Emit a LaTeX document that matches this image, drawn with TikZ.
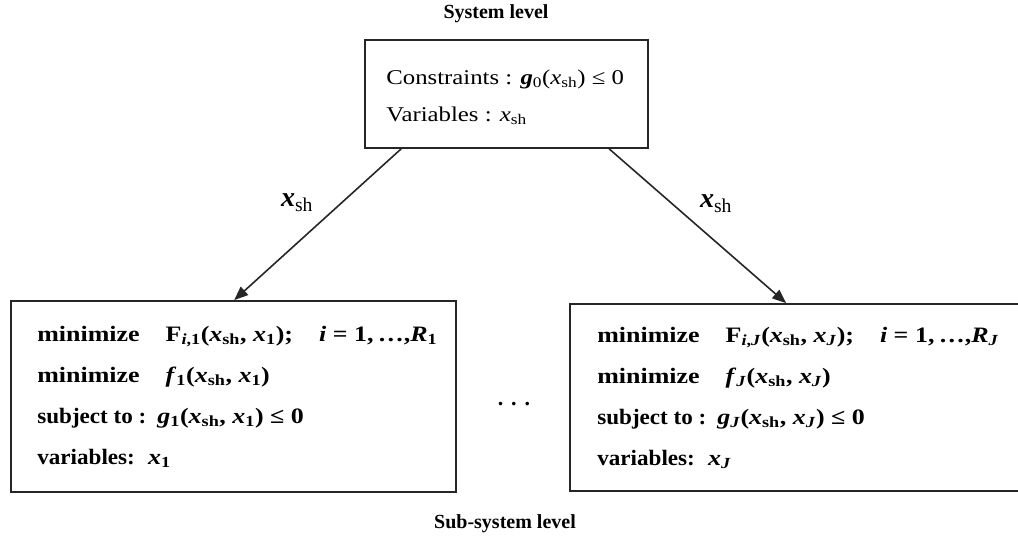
\documentclass[tikz,border=0pt]{standalone}
\usepackage{fontspec}
\setmainfont{Liberation Serif}
\usepackage{graphicx}
\usetikzlibrary{arrows.meta,calc}
\newcommand{\hstretch}[1]{\scalebox{1.18}[1]{#1}}
\newcommand{\hst}[1]{\scalebox{1.05}[1]{#1}}
\newcommand{\sbs}[1]{\textsubscript{#1}}
\newcommand{\bx}[1]{\textbf{\textit{#1}}}
\begin{document}
\begin{tikzpicture}[x=1pt,y=-1pt,
  box/.style={draw=black!85, line width=1.7pt, inner sep=0pt},
  boxtext/.style={anchor=west, align=left, inner sep=0pt},
  arr/.style={draw=black!85, line width=1.6pt, -{Triangle[length=14pt,width=11pt]}},
  heading/.style={font=\fontsize{20}{24}\selectfont\bfseries}
]
\useasboundingbox (0,0) rectangle (1018,542);

\node[heading] (syslev) at (496,14) {System level};
\node[heading] (sublev) at (505,524) {Sub-system level};

\node[box, minimum width=283pt, minimum height=108pt] (sys) at (506.5,94) {};
\node[box, minimum width=445pt, minimum height=191pt] (lbox) at (233.5,396.5) {};
\node[box, minimum width=460pt, minimum height=187pt] (rbox) at (800,397.5) {};

\node[boxtext, font=\fontsize{21}{37}\selectfont] (systxt) at ([xshift=22pt,yshift=-3pt]sys.west)
  {\hstretch{Constraints : \bx{g}\sbs{0}(\textit{x}\sbs{sh}) ≤ 0}\\
   \hstretch{Variables : \textit{x}\sbs{sh}}};

\node[boxtext, font=\fontsize{22}{41}\selectfont\bfseries] (ltxt) at ([xshift=27pt]lbox.west)
  {\hstretch{minimize\hspace{1em}F\sbs{\textit{i},1}(\textit{x}\sbs{sh}, \textit{x}\sbs{1});\hspace{1em}\textit{i} = 1,\,\ldots,\textit{R}\sbs{1}}\\
   \hstretch{minimize\hspace{1em}\textit{f}\sbs{1}(\textit{x}\sbs{sh}, \textit{x}\sbs{1})}\\
   \hst{subject to :}\hspace{0.5em}\hstretch{\textit{g}\sbs{1}(\textit{x}\sbs{sh}, \textit{x}\sbs{1}) ≤ 0}\\
   \hst{variables:}\hspace{0.6em}\hstretch{\textit{x}\sbs{1}}};

\node[boxtext, font=\fontsize{22}{41}\selectfont\bfseries] (rtxt) at ([xshift=28pt]rbox.west)
  {\hstretch{minimize\hspace{1em}F\sbs{\textit{i},\textit{J}}(\textit{x}\sbs{sh}, \textit{x}\sbs{\textit{J}});\hspace{1em}\textit{i} = 1,\,\ldots,\textit{R}\sbs{\textit{J}}}\\
   \hstretch{minimize\hspace{1em}\textit{f}\sbs{\textit{J}}(\textit{x}\sbs{sh}, \textit{x}\sbs{\textit{J}})}\\
   \hst{subject to :}\hspace{0.5em}\hstretch{\textit{g}\sbs{\textit{J}}(\textit{x}\sbs{sh}, \textit{x}\sbs{\textit{J}}) ≤ 0}\\
   \hst{variables:}\hspace{0.6em}\hstretch{\textit{x}\sbs{\textit{J}}}};

\node[font=\fontsize{22}{24}\selectfont\bfseries] (dots) at (514,404) {.\hspace{8pt}.\hspace{8pt}.};

\draw[arr] ($(sys.south west)+(37,0)$) -- ($(lbox.north west)+(224,0)$);
\draw[arr] ($(sys.south west)+(245,0)$) -- ($(rbox.north west)+(217,0)$);

\node[font=\fontsize{28}{32}\selectfont] (lab1) at (297,203) {\bx{x}\sbs{sh}};
\node[font=\fontsize{28}{32}\selectfont] (lab2) at (716,204) {\bx{x}\sbs{sh}};
\end{tikzpicture}
\end{document}
